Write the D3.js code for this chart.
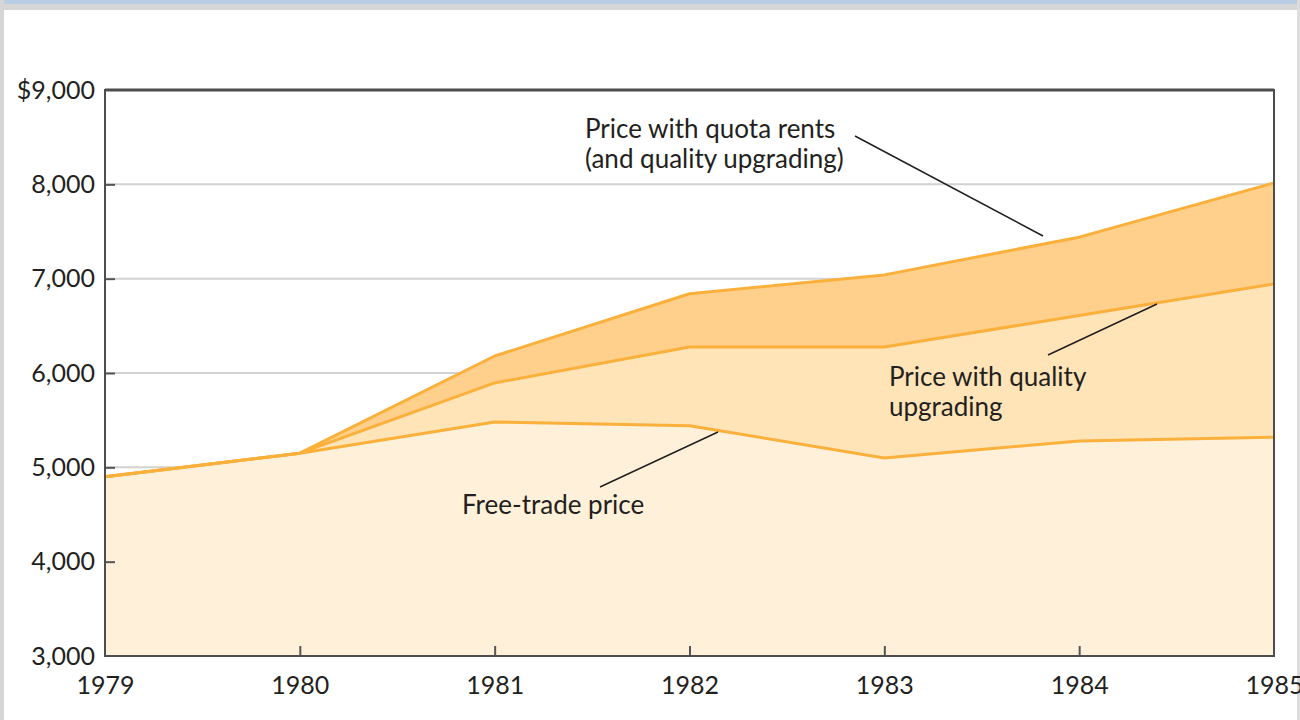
<!DOCTYPE html>
<html>
<head>
<meta charset="utf-8">
<script src="https://cdn.jsdelivr.net/npm/d3@7"></script>
<style>
  body { margin: 0; background: #fff; }
  svg { display: block; }
  text { font-family: Lato, "Noto Sans", sans-serif; fill: #231f20; }
</style>
</head>
<body>
<div id="chart"></div>
<script>
// data
const years = [1979, 1980, 1981, 1982, 1983, 1984, 1985]
const freeTrade = [4900, 5150, 5480, 5440, 5100, 5280, 5320]
const qualityUpgrading = [4900, 5150, 5895, 6275, 6275, 6610, 6945]
const quotaRents = [4900, 5150, 6180, 6840, 7040, 7440, 8015]
const yTicks = [3000, 4000, 5000, 6000, 7000, 8000, 9000]

const W = 1300, H = 720
const MARGIN = {TOP: 90, BOTTOM: 64, LEFT: 105, RIGHT: 26}
const WIDTH = W - MARGIN.LEFT - MARGIN.RIGHT
const HEIGHT = H - MARGIN.TOP - MARGIN.BOTTOM

const svg = d3.select("#chart").append("svg")
  .attr("width", W)
  .attr("height", H)

// page frame
svg.append("rect").attr("x", 0).attr("y", 0).attr("width", W).attr("height", 10).attr("fill", "#d6d6d6")
svg.append("rect").attr("x", 0).attr("y", 0).attr("width", W).attr("height", 4).attr("fill", "#b9cde5")
svg.append("rect").attr("x", 0).attr("y", 0).attr("width", 4).attr("height", H).attr("fill", "#d6d6d6")
svg.append("rect").attr("x", 1297).attr("y", 0).attr("width", 3).attr("height", H).attr("fill", "#dcdcdc")

const g = svg.append("g")
  .attr("transform", `translate(${MARGIN.LEFT}, ${MARGIN.TOP})`)

const x = d3.scaleLinear().domain([1979, 1985]).range([0, WIDTH])
const y = d3.scaleLinear().domain([3000, 9000]).range([HEIGHT, 0])

// gridlines
g.append("g")
  .selectAll("line")
  .data(yTicks.slice(1, -1))
  .join("line")
  .attr("x1", 0).attr("x2", WIDTH)
  .attr("y1", d => y(d)).attr("y2", d => y(d))
  .attr("stroke", "#d2d2d2")
  .attr("stroke-width", 2)

const rows = years.map((yr, i) => ({yr, f: freeTrade[i], q: qualityUpgrading[i], r: quotaRents[i]}))

const band = (lo, hi) => d3.area().x(d => x(d.yr)).y0(lo).y1(hi)

g.append("path").datum(rows)
  .attr("d", band(d => y(d.q), d => y(d.r)))
  .attr("fill", "#fed08b")
g.append("path").datum(rows)
  .attr("d", band(d => y(d.f), d => y(d.q)))
  .attr("fill", "#ffe4b8")
g.append("path").datum(rows)
  .attr("d", band(() => HEIGHT, d => y(d.f)))
  .attr("fill", "#fff0da")

const lineFor = key => d3.line().x(d => x(d.yr)).y(d => y(d[key]))
;["f", "q", "r"].forEach(k => {
  g.append("path").datum(rows)
    .attr("d", lineFor(k))
    .attr("fill", "none")
    .attr("stroke", "#fbb03b")
    .attr("stroke-width", 3)
    .attr("stroke-linejoin", "round")
})

// axes
const yAxis = g.append("g")
  .call(d3.axisLeft(y).tickValues(yTicks).tickSize(-10).tickPadding(10)
    .tickFormat(d => d === 9000 ? "$9,000" : d3.format(",")(d)))
const xAxis = g.append("g")
  .attr("transform", `translate(0, ${HEIGHT})`)
  .call(d3.axisBottom(x).tickValues(years).tickSize(-10).tickPadding(20).tickFormat(d3.format("d")))

;[yAxis, xAxis].forEach(a => {
  a.select(".domain").remove()
  a.selectAll(".tick line").attr("stroke", "#555").attr("stroke-width", 2)
  a.selectAll(".tick text").attr("font-size", 25).attr("font-family", "Lato, sans-serif").attr("fill", "#231f20")
})
yAxis.selectAll(".tick").filter(d => d === 3000 || d === 9000).select("line").remove()
xAxis.selectAll(".tick").filter(d => d === 1979 || d === 1985).select("line").remove()

// plot frame
g.append("rect")
  .attr("width", WIDTH).attr("height", HEIGHT)
  .attr("fill", "none")
  .attr("stroke", "#4d4d4d")
  .attr("stroke-width", 2)
g.append("line")
  .attr("x1", 0).attr("x2", WIDTH).attr("y1", 0).attr("y2", 0)
  .attr("stroke", "#4d4d4d").attr("stroke-width", 3)

// annotations
const labels = [
  {lines: ["Price with quota rents", "(and quality upgrading)"], x: 585, y: 138},
  {lines: ["Price with quality", "upgrading"], x: 889, y: 386},
  {lines: ["Free-trade price"], x: 462, y: 514}
]
labels.forEach(l => {
  const t = svg.append("text").attr("x", l.x).attr("y", l.y).attr("font-size", 26)
  l.lines.forEach((s, i) => t.append("tspan").attr("x", l.x).attr("dy", i ? 30 : 0).text(s))
})

const leaders = [
  [[855, 136], [1043, 236]],
  [[1048, 355], [1157, 304]],
  [[600, 487], [718, 432]]
]
svg.selectAll(".leader").data(leaders).join("line")
  .attr("class", "leader")
  .attr("x1", d => d[0][0]).attr("y1", d => d[0][1])
  .attr("x2", d => d[1][0]).attr("y2", d => d[1][1])
  .attr("stroke", "#231f20")
  .attr("stroke-width", 1.5)
</script>
</body>
</html>
